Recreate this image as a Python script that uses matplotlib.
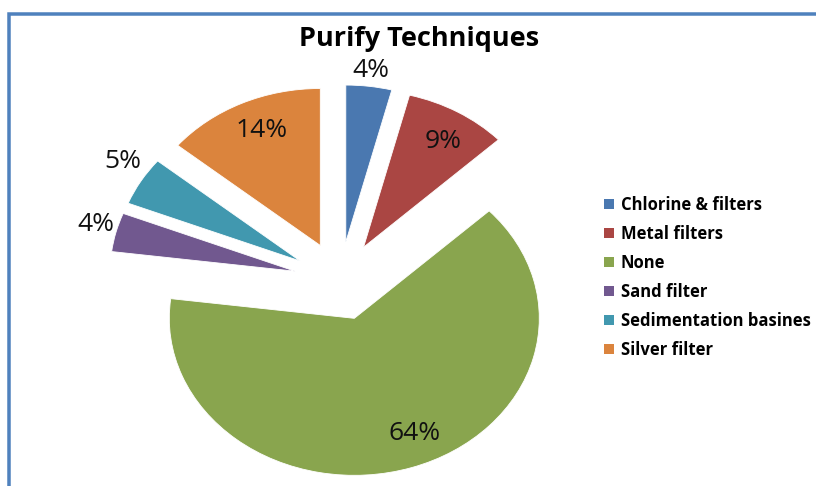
import matplotlib
matplotlib.use("Agg")
import matplotlib.pyplot as plt
from matplotlib.patches import Rectangle, Patch
import numpy as np

plt.rcParams['font.family'] = ['Open Sans', 'DejaVu Sans']

# Data
categories = ["Chlorine & filters", "Metal filters", "None", "Sand filter",
              "Sedimentation basines", "Silver filter"]
shares = [4, 9, 64, 4, 5, 14]
title = "Purify Techniques"

# Styling
colors = ['#4A78B0', '#AA4643', '#89A54E', '#71588F', '#4198AF', '#DB843D']
label_radius = [1.10, 0.80, 0.80, 1.12, 1.15, 0.80]
label_angle_nudge = [0, -2, 6, -1, -3, -2]

W, H, DPI = 816, 486, 100
fig = plt.figure(figsize=(W / DPI, H / DPI), dpi=DPI)

# Axes placed so the pie is centred near (340, 205) px with horizontal
# unit 185 px and vertical unit 157 px
xl, yl = (-1.6, 1.6), (-1.3, 1.5)
cx, cy, ux, uy = 340, 205, 185, 157
ax = fig.add_axes([(cx + xl[0] * ux) / W, (cy + yl[0] * uy) / H,
                   (xl[1] - xl[0]) * ux / W, (yl[1] - yl[0]) * uy / H])

wedges, _ = ax.pie(shares, colors=colors, startangle=90, counterclock=False,
                   explode=[0.25] * len(shares), radius=1.0,
                   wedgeprops=dict(edgecolor='white', linewidth=0.6))
ax.set_aspect('auto')
ax.set_xlim(*xl)
ax.set_ylim(*yl)
ax.axis('off')

for w, v, r, dn in zip(wedges, shares, label_radius, label_angle_nudge):
    th = np.deg2rad((w.theta1 + w.theta2) / 2 + dn)
    x0, y0 = w.center
    ax.text(x0 + r * np.cos(th), y0 + r * np.sin(th), f"{v}%",
            ha='center', va='center', fontsize=19, color='#111111')

fig.text(419 / W, 1 - 46 / H, title, ha='center', va='baseline',
         fontsize=19.5, fontweight='bold', color='black')

handles = [Patch(facecolor=c, edgecolor='none') for c in colors]
fig.legend(handles, categories, loc='upper left',
           bbox_to_anchor=(604 / W, 1 - 196 / H), frameon=False,
           prop=dict(size=12, weight='bold'), handlelength=0.6,
           handleheight=0.6, handletextpad=0.4, labelspacing=0.66,
           borderpad=0, borderaxespad=0)

# Blue frame along the top and left edges
fig.add_artist(Rectangle((8.5, -20), W + 40, H - 13.5 + 20,
                         transform=None, fill=False, edgecolor='#4F81BD',
                         linewidth=3.5 * 72 / DPI))

fig.savefig("out.png", dpi=DPI)
